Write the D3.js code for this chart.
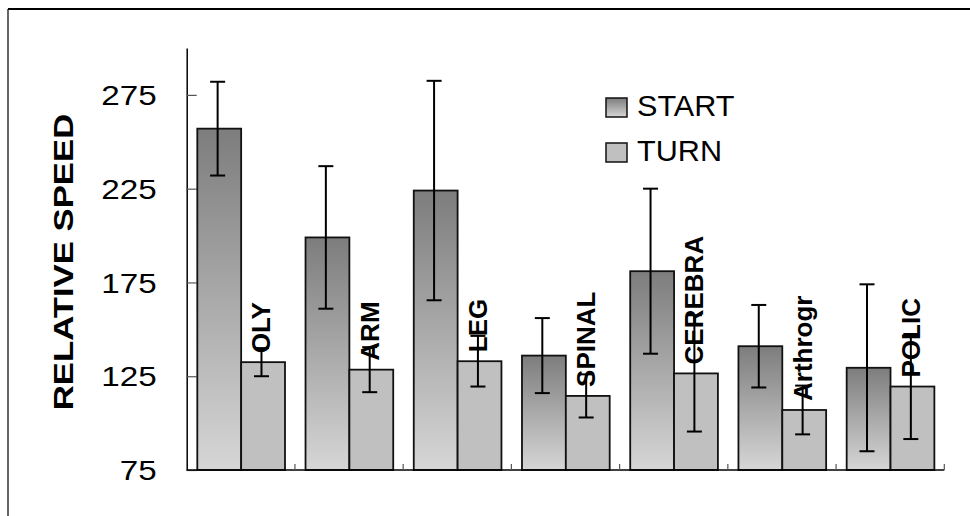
<!DOCTYPE html>
<html>
<head>
<meta charset="utf-8">
<script src="https://cdn.jsdelivr.net/npm/d3@7"></script>
<style>
  html, body { margin: 0; padding: 0; background: #fff; }
  svg { display: block; }
  text { font-family: Arial, "Liberation Sans", sans-serif; fill: #000; }
</style>
</head>
<body>
<script>
// ---- data ----
const categories = ["OLY", "ARM", "LEG", "SPINAL", "CEREBRA", "Arthrogr", "POLIC"];
const seriesNames = ["START", "TURN"];
const startValues = [257, 199, 224, 136, 181, 141, 129.5];
const startErrors = [25, 38, 58.5, 20, 44, 22, 44.5];
const turnValues = [132.5, 128.5, 133, 114.5, 126.5, 107, 119.5];
const turnErrors = [7.5, 12, 13.5, 11.5, 31, 13, 28];
const yTicks = [75, 125, 175, 225, 275];
const yTitle = "RELATIVE SPEED";

const W = 970, H = 516;
const svg = d3.select("body").append("svg").attr("width", W).attr("height", H);

const defs = svg.append("defs");
const grad = defs.append("linearGradient").attr("id", "startGrad")
  .attr("x1", 0).attr("y1", 0).attr("x2", 0).attr("y2", 1);
grad.append("stop").attr("offset", "0%").attr("stop-color", "#7d7d7d");
grad.append("stop").attr("offset", "100%").attr("stop-color", "#d6d6d6");
const fills = ["url(#startGrad)", "#c0c0c0"];

// outer frame
svg.append("line").attr("x1", 8).attr("y1", 9).attr("x2", W).attr("y2", 9)
  .attr("stroke", "#000").attr("stroke-width", 2);
svg.append("line").attr("x1", 8).attr("y1", 9).attr("x2", 8).attr("y2", H)
  .attr("stroke", "#000").attr("stroke-width", 1.2);

// scales
const x0 = d3.scaleBand().domain(categories).range([186.7, 944.3]).padding(0);
const x1 = d3.scaleBand().domain(seriesNames).range([10.6, 98.3]).padding(0);
const y = d3.scaleLinear().domain([75, 300]).range([470, 48]);

const rows = categories.map((c, i) => ({
  cat: c,
  bars: [
    { s: "START", v: startValues[i], e: startErrors[i] },
    { s: "TURN", v: turnValues[i], e: turnErrors[i] }
  ]
}));

// y axis
const yAxis = d3.axisLeft(y).tickValues(yTicks).tickSizeInner(-10).tickSizeOuter(0).tickPadding(30);
const gy = svg.append("g").attr("transform", "translate(186.7,0)").call(yAxis);
gy.select(".domain").attr("stroke", "#000").attr("stroke-width", 1.5);
gy.selectAll(".tick line").attr("stroke", "#555").attr("stroke-width", 1.2);
gy.selectAll(".tick text")
  .attr("font-size", 27).attr("font-family", 'Arial, "Liberation Sans", sans-serif')
  .attr("fill", "#000").attr("dy", "0.36em")
  .each(function () {
    const t = d3.select(this);
    const w = this.getComputedTextLength();
    t.attr("textLength", w * 1.23).attr("lengthAdjust", "spacingAndGlyphs");
  });

// y title
const title = svg.append("text")
  .attr("transform", "translate(73,262) rotate(-90)")
  .attr("text-anchor", "middle")
  .attr("font-size", 28).attr("font-weight", "bold")
  .text(yTitle);
title.attr("textLength", title.node().getComputedTextLength() * 1.24)
  .attr("lengthAdjust", "spacingAndGlyphs");

// bars
const groups = svg.append("g").selectAll("g.grp").data(rows).join("g")
  .attr("class", "grp")
  .attr("transform", d => `translate(${x0(d.cat)},0)`);

groups.selectAll("rect").data(d => d.bars).join("rect")
  .attr("x", d => x1(d.s))
  .attr("y", d => y(d.v))
  .attr("width", x1.bandwidth())
  .attr("height", d => y(75) - y(d.v))
  .attr("fill", (d, i) => fills[i])
  .attr("stroke", "#111").attr("stroke-width", 1.8);

// error bars
const errX = d => x1(d.s) + x1.bandwidth() / 2 - 1.6;
const capW = 15;
const eb = groups.selectAll("g.err").data(d => d.bars).join("g").attr("class", "err");
eb.append("line")
  .attr("x1", errX).attr("x2", errX)
  .attr("y1", d => y(d.v + d.e)).attr("y2", d => y(d.v - d.e))
  .attr("stroke", "#000").attr("stroke-width", 2);
eb.append("line")
  .attr("x1", d => errX(d) - capW / 2).attr("x2", d => errX(d) + capW / 2)
  .attr("y1", d => y(d.v + d.e)).attr("y2", d => y(d.v + d.e))
  .attr("stroke", "#000").attr("stroke-width", 2);
eb.append("line")
  .attr("x1", d => errX(d) - capW / 2).attr("x2", d => errX(d) + capW / 2)
  .attr("y1", d => y(d.v - d.e)).attr("y2", d => y(d.v - d.e))
  .attr("stroke", "#000").attr("stroke-width", 2);

// x axis baseline + boundary ticks
svg.append("line").attr("x1", 186.7).attr("x2", 944.3)
  .attr("y1", y(75)).attr("y2", y(75)).attr("stroke", "#000").attr("stroke-width", 1.5);
svg.append("g").selectAll("line").data(categories).join("line")
  .attr("x1", d => x0(d) + x0.bandwidth()).attr("x2", d => x0(d) + x0.bandwidth())
  .attr("y1", y(75)).attr("y2", y(75) - 6)
  .attr("stroke", "#555").attr("stroke-width", 1.2);

// category labels (rotated, above TURN bars)
groups.each(function (d) {
  const b = d.bars[1];
  const cx = errX(b) + 9;
  const t = d3.select(this).append("text")
    .attr("transform", `translate(${cx},${y(b.v) - 9}) rotate(-90)`)
    .attr("font-size", 25).attr("font-weight", "bold")
    .text(d.cat);
  t.attr("textLength", t.node().getComputedTextLength() * 1.04)
    .attr("lengthAdjust", "spacingAndGlyphs");
});

// legend
const legend = svg.append("g");
const legY = [98, 143];
seriesNames.forEach((s, i) => {
  legend.append("rect").attr("x", 606).attr("y", legY[i])
    .attr("width", 21).attr("height", 19)
    .attr("fill", fills[i]).attr("stroke", "#111").attr("stroke-width", 1.5);
  const t = legend.append("text").attr("x", 637).attr("y", legY[i] + 18)
    .attr("font-size", 30).text(s);
  t.attr("textLength", t.node().getComputedTextLength() * 1.02)
    .attr("lengthAdjust", "spacingAndGlyphs");
});
</script>
</body>
</html>
